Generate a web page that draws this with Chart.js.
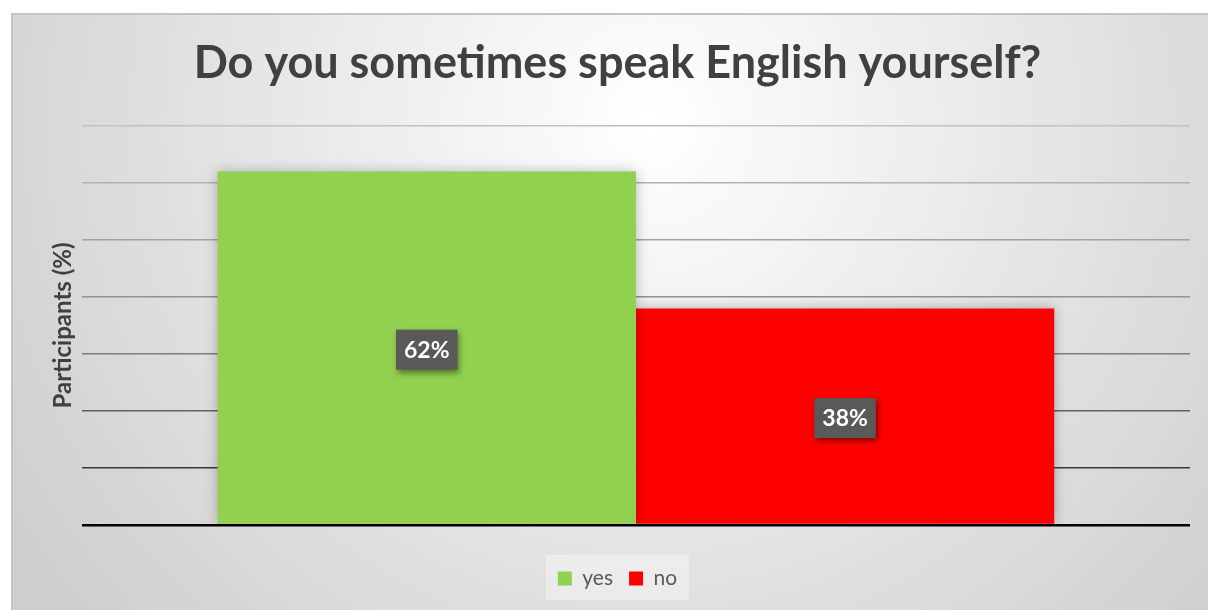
<!DOCTYPE html>
<html><head><meta charset="utf-8">
<script src="https://cdn.jsdelivr.net/npm/chart.js@4/dist/chart.umd.min.js"></script>
<style>
html,body{margin:0;padding:0;background:#fff;overflow:hidden;width:1208px;height:610px}
#wrap{position:absolute;left:11px;top:13px;width:1207px;height:600px}
</style></head>
<body>
<div id="wrap"><canvas id="c" width="1207" height="600"></canvas></div>
<script>
const titleText = 'Do you sometimes speak English yourself?';
const yAxisTitle = 'Participants (%)';
const categories = [''];
const seriesNames = ['yes', 'no'];
const yesValues = [62];
const noValues = [38];
const seriesColors = ['#92d050', '#ff0000'];
const yMin = 0, yMax = 70, yStep = 10;

const gridColors = {70:'#c2c2c2',60:'#b2b2b2',50:'#a2a2a2',40:'#929292',30:'#7e7e7e',20:'#626262',10:'#383838',0:'#000000'};

const FONT = 'Lato, "Open Sans", sans-serif';

const bgPlugin = {
  id: 'bg',
  beforeDraw(chart) {
    const {ctx, width, height} = chart;
    ctx.save();
    const g = ctx.createRadialGradient(640, 110, 0, 640, 110, 760);
    g.addColorStop(0, '#ffffff');
    g.addColorStop(1, '#cecece');
    ctx.fillStyle = g;
    ctx.fillRect(0, 0, width, height);
    ctx.strokeStyle = '#c4c4c4';
    ctx.lineWidth = 2;
    ctx.strokeRect(1, 1, width + 10, height + 10);
    const lg = chart.legend;
    if (lg && lg.legendHitBoxes && lg.legendHitBoxes.length) {
      let x0 = Infinity, x1 = -Infinity, y0 = Infinity, y1 = -Infinity;
      lg.legendHitBoxes.forEach(b => {
        x0 = Math.min(x0, b.left); x1 = Math.max(x1, b.left + b.width);
        y0 = Math.min(y0, b.top); y1 = Math.max(y1, b.top + b.height);
      });
      ctx.fillStyle = 'rgba(255,255,255,0.35)';
      ctx.fillRect(x0 - 12, y0 - 13, (x1 - x0) + 24, (y1 - y0) + 24);
    }
    ctx.restore();
  }
};

const shadowPlugin = {
  id: 'barShadow',
  beforeDatasetsDraw(chart) {
    const ctx = chart.ctx;
    ctx.save();
    ctx.shadowColor = 'rgba(0,0,0,0.28)';
    ctx.shadowBlur = 12;
    ctx.shadowOffsetX = 0;
    ctx.shadowOffsetY = 0;
  },
  afterDatasetsDraw(chart) {
    chart.ctx.restore();
  }
};

const labelPlugin = {
  id: 'valueLabels',
  afterDatasetsDraw(chart) {
    const ctx = chart.ctx;
    ctx.save();
    ctx.font = 'bold 23px ' + FONT;
    ctx.textAlign = 'center';
    ctx.textBaseline = 'middle';
    chart.data.datasets.forEach((ds, i) => {
      const meta = chart.getDatasetMeta(i);
      meta.data.forEach((bar, j) => {
        const v = ds.data[j];
        const txt = v + '%';
        const cx = bar.x;
        const cy = (bar.y + bar.base) / 2 + 2;
        const w = ctx.measureText(txt).width + 16;
        const h = 40;
        ctx.save();
        ctx.shadowColor = 'rgba(0,0,0,0.45)';
        ctx.shadowBlur = 6;
        ctx.shadowOffsetX = 2;
        ctx.shadowOffsetY = 3;
        ctx.fillStyle = '#595959';
        ctx.fillRect(cx - w / 2, cy - h / 2, w, h);
        ctx.restore();
        ctx.fillStyle = '#ffffff';
        ctx.fillText(txt, cx, cy + 1);
      });
    });
    ctx.restore();
  }
};

new Chart(document.getElementById('c'), {
  type: 'bar',
  data: {
    labels: categories,
    datasets: [
      {label: seriesNames[0], data: yesValues, backgroundColor: seriesColors[0]},
      {label: seriesNames[1], data: noValues, backgroundColor: seriesColors[1]}
    ]
  },
  options: {
    responsive: false,
    animation: false,
    devicePixelRatio: 1,
    categoryPercentage: 0.755,
    barPercentage: 1,
    layout: {padding: {left: 34, right: 28, top: 0, bottom: 14}},
    plugins: {
      title: {
        display: true, text: titleText, color: '#404040',
        font: {family: FONT, size: 45, weight: 'bold'},
        padding: {top: 23, bottom: 36}
      },
      legend: {
        position: 'bottom',
        labels: {
          color: '#595959', boxWidth: 14, boxHeight: 14, padding: 16,
          font: {family: FONT, size: 21}
        }
      },
      tooltip: {enabled: false}
    },
    scales: {
      x: {
        display: true,
        ticks: {display: false},
        grid: {display: false, drawTicks: false},
        border: {display: false},
        afterFit: (s) => { s.height = 27; }
      },
      y: {
        min: yMin, max: yMax,
        ticks: {display: false, stepSize: yStep},
        border: {display: false},
        grid: {
          drawTicks: false,
          color: (c) => gridColors[c.tick.value] || '#999',
          lineWidth: (c) => c.tick.value === 0 ? 2.5 : 1.6
        },
        title: {
          display: true, text: yAxisTitle, color: '#404040',
          font: {family: FONT, size: 24, weight: 'bold'},
          padding: {top: 4, bottom: 4}
        }
      }
    }
  },
  plugins: [bgPlugin, shadowPlugin, labelPlugin]
});
</script>
</body></html>
